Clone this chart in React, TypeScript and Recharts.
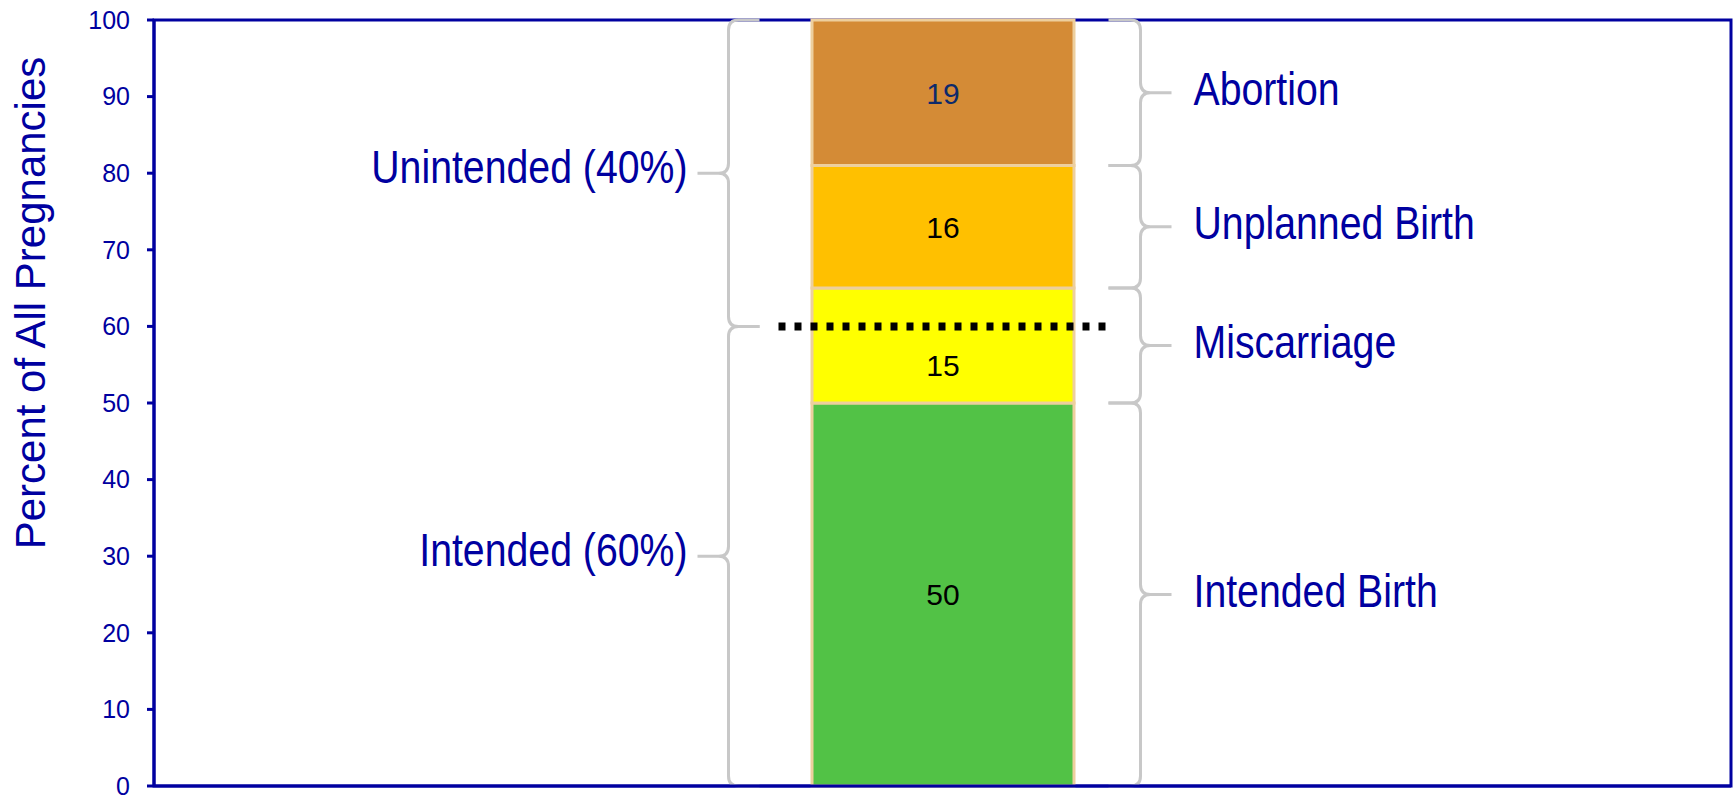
import { BarChart, Bar, XAxis, YAxis, ReferenceArea, ReferenceLine, LabelList } from "recharts";

// data
const categories = ["All Pregnancies"];
const segmentKeys = ["intended", "miscarriage", "unplanned", "abortion"];
const segmentNames = ["Intended Birth", "Miscarriage", "Unplanned Birth", "Abortion"];
const segmentValues = [50, 15, 16, 19];
const groupNames = ["Intended (60%)", "Unintended (40%)"];
const groupValues = [60, 40];
const yTicks = [0, 10, 20, 30, 40, 50, 60, 70, 80, 90, 100];

// styles
const BLUE = "#0000A0";
const FONT = "'Liberation Sans', Arial, sans-serif";
const SEG_FILL: Record<string, string> = {
 intended: "#52C246",
 miscarriage: "#FFFF00",
 unplanned: "#FFC000",
 abortion: "#D48B36",
};
const SEG_TEXT: Record<string, string> = {
 intended: "#000000",
 miscarriage: "#000000",
 unplanned: "#000000",
 abortion: "#0D2A6B",
};
const BAR_SIZE = 262;

const rows = categories.map((name) => {
 const r: Record<string, any> = { name };
 segmentKeys.forEach((k, i) => (r[k] = segmentValues[i]));
 return r;
});

const segStart = segmentValues.map((_, i) => segmentValues.slice(0, i).reduce((a, b) => a + b, 0));
const groupStart = groupValues.map((_, i) => groupValues.slice(0, i).reduce((a, b) => a + b, 0));
const DIVIDER = groupStart[1];

function bracePath(xv: number, xe: number, xt: number, y1: number, y2: number, r = 10) {
 const ym = (y1 + y2) / 2;
 const e = Math.sign(xe - xv);
 const d = Math.sign(xt - xv);
 return [
  `M${xe},${y1} L${xv + e * r},${y1} Q${xv},${y1} ${xv},${y1 + r}`,
  `L${xv},${ym - r} Q${xv},${ym} ${xv + d * r},${ym} L${xt},${ym}`,
  `M${xv + d * r},${ym} Q${xv},${ym} ${xv},${ym + r}`,
  `L${xv},${y2 - r} Q${xv},${y2} ${xv + e * r},${y2} L${xe},${y2}`,
 ].join(" ");
}

function BraceText({ x, y, anchor, children }: any) {
 return (
  <text
   transform={`translate(${x},${y}) scale(0.835,1)`}
   textAnchor={anchor}
   fontSize={47}
   fill={BLUE}
   fontFamily={FONT}
  >
   {children}
  </text>
 );
}

const rightBrace = (label: string) => (p: any) => {
 const cx = p.x + p.width / 2;
 const top = Math.min(p.y, p.y + p.height);
 const bottom = Math.max(p.y, p.y + p.height);
 const xv = cx + BAR_SIZE / 2 + 67;
 const ym = (top + bottom) / 2;
 return (
  <g>
   <path d={bracePath(xv, xv - 32, xv + 31, top, bottom)} fill="none" stroke="#C8C8C8" strokeWidth={3} />
   <BraceText x={xv + 53} y={ym + 12} anchor="start">{label}</BraceText>
  </g>
 );
};

const leftBrace = (label: string) => (p: any) => {
 const cx = p.x + p.width / 2;
 const top = Math.min(p.y, p.y + p.height);
 const bottom = Math.max(p.y, p.y + p.height);
 const xv = cx - BAR_SIZE / 2 - 83;
 const ym = (top + bottom) / 2;
 return (
  <g>
   <path d={bracePath(xv, xv + 31, xv - 31, top, bottom)} fill="none" stroke="#C8C8C8" strokeWidth={3} />
   <BraceText x={xv - 41} y={ym + 10} anchor="end">{label}</BraceText>
  </g>
 );
};

const valueLabel = (i: number) => (props: any) => {
 const vb = props.viewBox ?? props;
 const top = Math.min(vb.y, vb.y + vb.height);
 const h = Math.abs(vb.height);
 const s0 = segStart[i];
 const s1 = s0 + segmentValues[i];
 const c = s0 < DIVIDER && DIVIDER < s1 ? (s0 + DIVIDER) / 2 : (s0 + s1) / 2;
 const cy = top + (h * (s1 - c)) / (s1 - s0);
 return (
  <text
   x={vb.x + vb.width / 2}
   y={cy}
   dy="0.36em"
   textAnchor="middle"
   fontSize={30}
   fontFamily={FONT}
   fill={SEG_TEXT[segmentKeys[i]]}
  >
   {props.value}
  </text>
 );
};

const dottedLine = (p: any) => {
 const cx = (p.x1 + p.x2) / 2;
 const half = BAR_SIZE / 2 + 33;
 return (
  <line
   x1={cx - half}
   x2={cx + half}
   y1={p.y1}
   y2={p.y2}
   stroke="#000"
   strokeWidth={8}
   strokeDasharray="7 9"
  />
 );
};

const YTitle = () => (
 <text transform="translate(45,303) rotate(-90)" textAnchor="middle" fontSize={42} fill={BLUE} fontFamily={FONT}>
  Percent of All Pregnancies
 </text>
);

export default function App() {
 const axisLine = { stroke: BLUE, strokeWidth: 3 };
 return (
  <div style={{ position: "absolute", left: 0, top: 0 }}>
   <BarChart
    width={1734}
    height={798}
    data={rows}
    margin={{ top: 20, right: 3, bottom: 11, left: 0 }}
    style={{ fontFamily: FONT }}
   >
    <XAxis dataKey="name" tick={false} tickLine={false} axisLine={axisLine} height={1} />
    <YAxis
     domain={[0, 100]}
     ticks={yTicks}
     interval={0}
     width={154}
     tickSize={7}
     tickMargin={17}
     axisLine={axisLine}
     tickLine={{ stroke: BLUE, strokeWidth: 3 }}
     tick={{ fontSize: 25, fill: BLUE, fontFamily: FONT }}
     label={<YTitle />}
    />

    {/* plot frame */}
    <ReferenceArea y1={0} y2={100} fill="none" stroke={BLUE} strokeWidth={3} fillOpacity={0} />

    {segmentKeys.map((k, i) => (
     <Bar
      key={k}
      dataKey={k}
      name={segmentNames[i]}
      stackId="a"
      barSize={BAR_SIZE}
      fill={SEG_FILL[k]}
      stroke="#EDCF9E"
      strokeWidth={3}
      isAnimationActive={false}
     >
      <LabelList dataKey={k} content={valueLabel(i)} />
     </Bar>
    ))}

    {segmentKeys.map((k, i) => (
     <ReferenceArea
      key={`r-${k}`}
      y1={segStart[i]}
      y2={segStart[i] + segmentValues[i]}
      fill="none"
      stroke="none"
      shape={rightBrace(segmentNames[i])}
     />
    ))}

    {groupNames.map((g, i) => (
     <ReferenceArea
      key={`g-${i}`}
      y1={groupStart[i]}
      y2={groupStart[i] + groupValues[i]}
      fill="none"
      stroke="none"
      shape={leftBrace(g)}
     />
    ))}

    <ReferenceLine y={DIVIDER} shape={dottedLine} />
   </BarChart>
  </div>
 );
}
